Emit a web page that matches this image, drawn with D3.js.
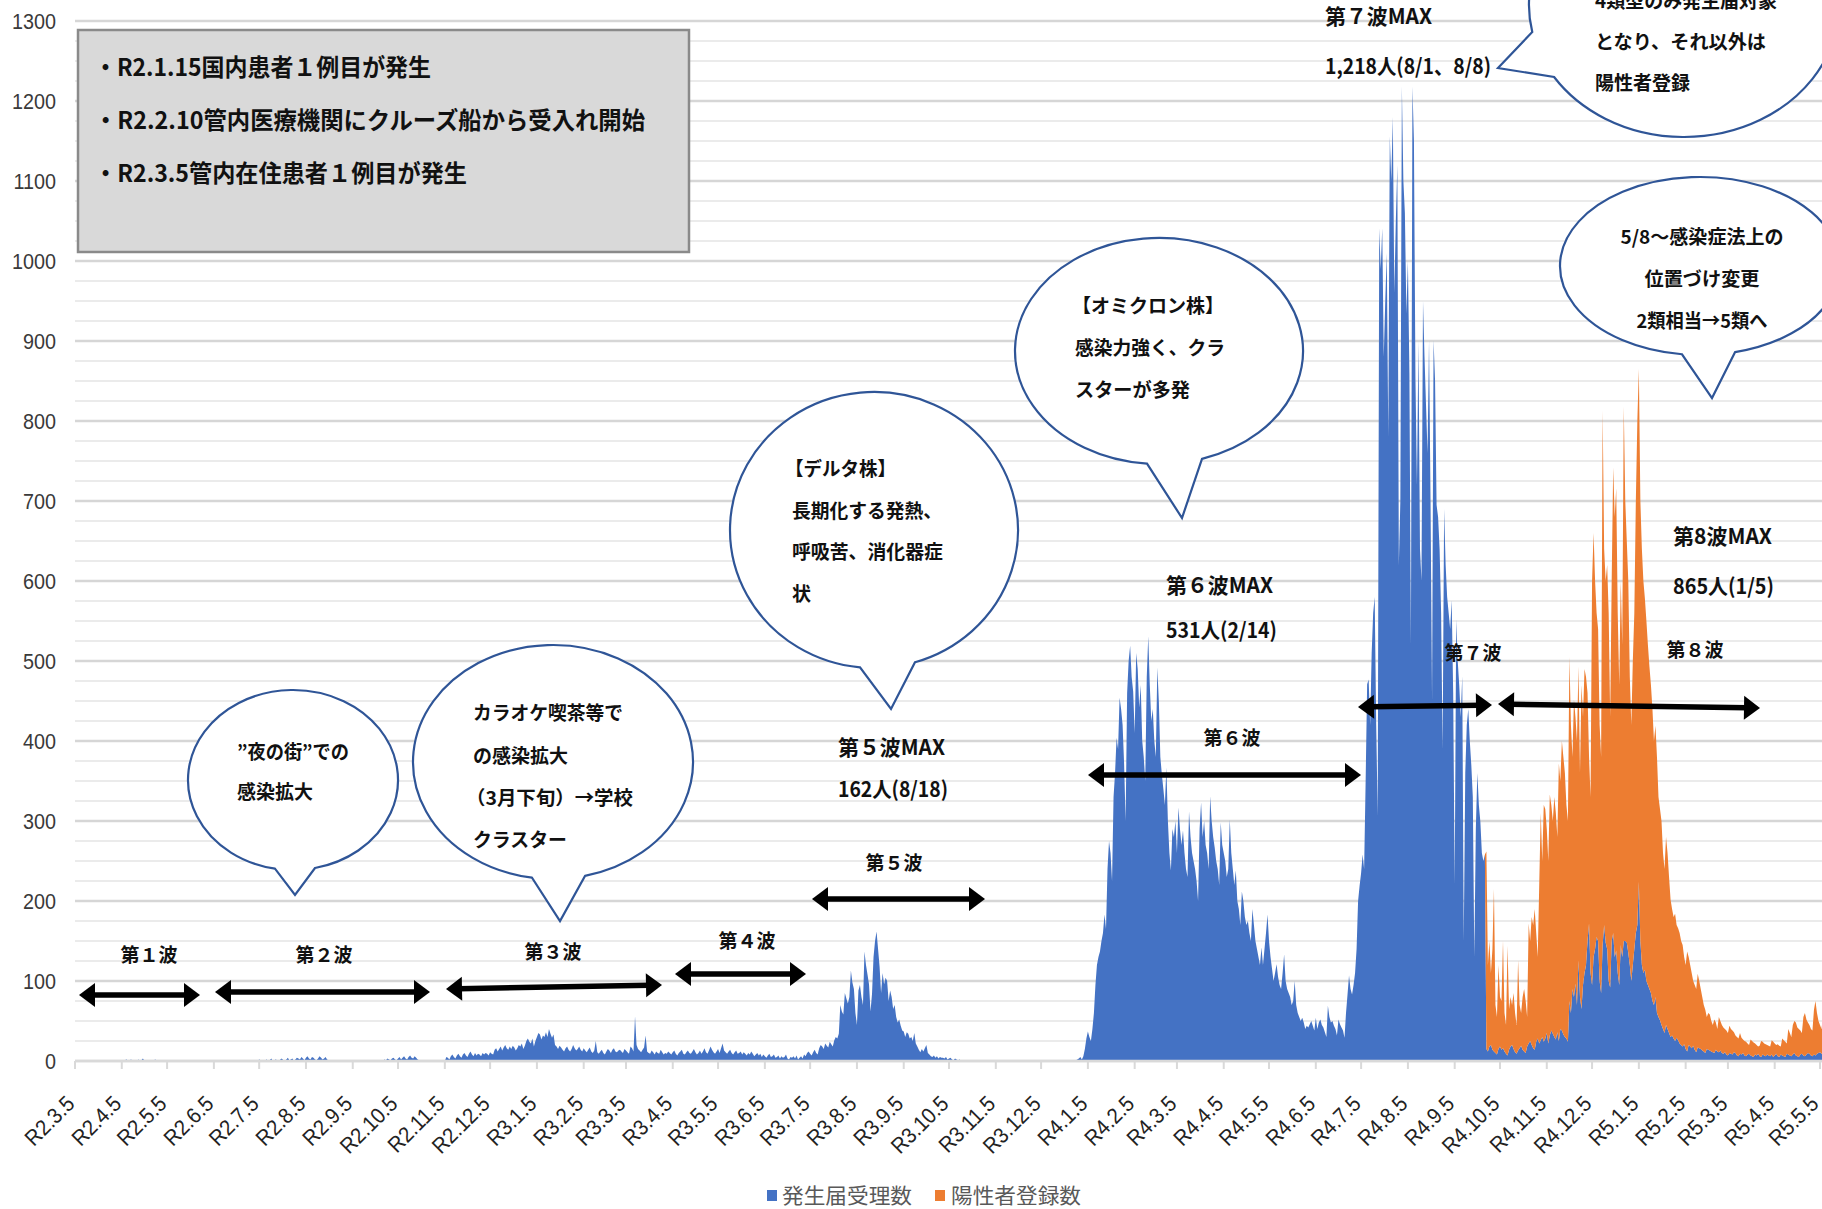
<!DOCTYPE html>
<html><head><meta charset="utf-8">
<script src="https://cdn.jsdelivr.net/npm/d3@7"></script>
<style>
html,body{margin:0;padding:0;background:#fff;}
svg{display:block;}
</style></head><body>
<svg id="chart" width="1822" height="1209"></svg>
<script>
// ===== Daily counts: 発生届受理数 (notifications), one array per month =====
// 2020 starts on 3/5
const notified2020 = [
  [0,0,0,0,1,0,0,0,0,0,0,0,0,1,0,0,0,0,0,0,1,0,0,0,0,0,1],
  [0,1,0,0,0,0,1,2,1,0,2,1,0,1,0,2,0,1,3,0,1,0,0,1,0,0,2,1,0,0],
  [0,0,0,1,0,0,0,0,0,0,1,0,0,0,0,0,0,0,0,0,0,0,0,0,0,0,0,0,0,0,0],
  [0,0,0,0,0,0,0,0,0,0,0,0,0,0,0,0,0,0,0,0,0,0,0,0,0,0,0,1,0,0],
  [0,1,0,0,2,1,0,0,1,2,0,1,3,0,1,2,1,0,2,3,1,0,2,4,1,2,3,0,2,4,3],
  [2,5,3,1,4,6,3,2,5,4,2,1,3,6,4,2,3,5,2,1,0,1,0,0,0,0,0,0,0,0,0],
  [0,0,1,0,0,0,0,1,0,0,0,0,0,1,0,0,0,0,0,0,0,0,0,0,0,2,1,3,2,1],
  [3,4,2,1,3,5,2,4,6,3,2,5,7,4,3,6,4,2,1,0,0,0,0,0,1,0,0,0,0,0,0],
  [0,0,0,0,0,5,4,2,6,8,5,3,7,9,6,4,8,10,7,5,9,12,8,6,10,7,9,8,6,10],
  [8,10,9,7,11,9,8,14,16,12,15,18,13,17,20,16,14,18,15,19,17,13,16,20,18,22,15,19,25,28,24]
];
const notified2021 = [
  [22,28,18,25,30,35,33,27,32,30,36,30,40,34,29,33,20,18,15,19,17,14,12,16,18,14,12,15,20,16,13],
  [15,18,14,12,16,13,11,14,17,12,10,13,25,11,9,12,14,10,8,12,15,13,10,14,16,12,11,13],
  [14,12,10,15,13,11,9,18,16,12,56,20,15,13,11,14,17,32,12,10,9,13,11,8,12,10,9,14,11,8,10],
  [9,12,10,8,11,13,9,7,10,12,14,9,8,11,13,10,9,12,15,11,8,10,13,9,12,16,11,9,13,18],
  [14,11,9,12,15,10,16,22,13,11,9,12,14,10,8,11,13,9,10,12,8,11,9,7,10,8,12,9,6,8,10],
  [7,9,5,8,6,4,7,9,5,6,8,4,5,7,3,6,4,5,8,3,2,5,4,6,3,7,2,4,6,3],
  [8,6,10,12,9,7,11,14,10,8,16,20,18,15,22,19,17,24,21,18,26,30,28,34,70,62,58,85,78,72,80],
  [113,98,90,60,45,88,95,80,70,137,120,108,96,62,84,130,150,162,140,118,85,110,96,104,100,75,88,80,65,70,55],
  [48,52,44,38,37,30,36,34,28,30,25,35,22,18,14,11,15,12,16,20,10,8,6,5,7,4,6,3,5,4],
  [4,3,5,2,3,4,2,1,3,2,1,2,0,1,0,0,1,0,0,0,1,0,1,0,0,1,0,0,0,1,0],
  [0,0,1,0,0,0,0,0,0,0,0,0,0,0,0,0,0,0,0,0,0,0,0,0,0,0,0,0,0,0],
  [0,0,0,0,1,0,0,0,0,0,0,0,0,0,0,0,0,0,0,0,0,1,0,0,0,0,0,1,2,3,5]
];
const notified2022 = [
  [2,6,15,28,37,30,25,40,60,95,120,130,137,150,160,183,165,240,275,260,225,330,360,404,390,454,440,420,371,300,460],
  [500,519,480,462,410,510,490,442,470,400,380,350,480,531,470,425,440,400,380,492,450,380,358,340,320,367,300,260],
  [238,290,280,300,260,317,290,270,288,260,240,230,312,280,260,250,240,225,200,290,323,280,300,270,260,240,331,300,280,267,250],
  [240,220,298,270,260,250,230,240,302,260,240,220,238,200,190,170,212,200,180,170,175,160,150,190,170,150,140,130,120,142],
  [120,140,160,183,150,130,115,100,110,121,105,95,90,110,133,100,90,85,80,70,75,100,70,60,55,50,54,48,40,44,42],
  [46,50,44,38,54,40,48,52,45,42,36,30,69,55,48,50,44,40,32,52,46,42,38,29,60,83,107,90,83,95],
  [110,140,200,219,235,258,240,350,471,477,420,510,560,580,420,306,1041,990,1041,880,950,1010,780,1156,1100,1180,960,1050,1120,620,700],
  [1218,1100,1060,934,1000,860,520,1218,1150,853,720,900,640,600,950,880,820,760,901,700,450,901,850,695,680,640,560,390,690,620,580],
  [560,540,576,460,220,552,500,470,430,481,150,360,420,440,400,370,330,130,290,360,320,299,260,250,258,15,12,18,20,14],
  [12,10,8,15,18,14,16,12,9,7,14,18,20,15,11,9,13,16,19,14,12,10,18,22,25,20,16,14,24,28,22],
  [26,30,24,28,35,22,32,38,34,30,27,36,25,40,38,33,30,28,24,75,60,90,80,97,70,126,80,65,95,110],
  [120,150,172,110,95,130,140,155,150,100,85,145,170,148,140,100,92,150,160,130,138,110,95,145,130,150,150,148,135,120,100]
];
const notified2023 = [
  [120,140,160,170,224,150,120,110,114,100,95,90,85,75,70,80,60,55,51,45,40,35,45,40,35,30,32,28,25,29,26],
  [22,20,18,21,15,12,20,18,16,19,14,11,17,16,15,13,12,10,15,14,13,12,11,10,14,12,11,13],
  [10,9,11,8,7,10,9,8,11,10,7,6,9,8,10,7,6,8,9,7,6,5,8,7,9,6,5,8,7,6,8],
  [7,6,8,5,7,9,6,5,8,7,6,5,9,8,7,6,8,10,7,6,5,8,9,7,6,8,10,9,7,6],
  [8,7,9,10,11,9,8]
];

// ===== Daily counts: 陽性者登録数 (registrations), from 2022/9/26 =====
const registered2022 = [
  [247,108,132,90,126],
  [203,60,47,105,62,61,134,48,36,137,51,62,50,70,49,36,113,54,41,66,78,65,37,150,125,160,154,176,136,102,198],
  [284,220,296,287,255,228,301,282,266,300,283,244,347,310,362,347,330,292,276,430,360,290,372,333,330,367,280,405,335,380],
  [360,310,208,220,505,530,460,405,390,320,295,668,470,452,480,460,338,450,582,550,578,450,375,455,390,668,550,502,465,360,320]
];
const registered2023 = [
  [380,420,540,630,641,550,520,490,464,450,425,403,385,365,330,339,320,275,264,255,220,205,235,220,195,172,158,152,159,141,140],
  [138,130,127,109,105,125,110,102,94,81,81,79,92,84,75,67,58,54,40,46,45,38,34,42,34,28,44,37],
  [35,33,29,30,28,34,31,30,25,22,23,22,26,21,17,18,18,14,11,20,19,18,14,13,9,13,20,16,15,15,12],
  [12,12,18,19,15,11,15,14,10,21,20,19,13,32,28,24,37,40,41,36,35,30,26,48,54,44,38,36,33,32],
  [56,68,51,40,34,31,47]
];

const seriesNames = ['発生届受理数', '陽性者登録数'];
const seriesColors = ['#4472c4', '#ed7d31'];
const yTicks = d3.range(0, 1301, 100);
const gridStep = 25;

// month blocks -> dated records
function expand(year, firstMonth, firstDay, months) {
  const out = [];
  months.forEach((vals, i) => {
    const d0 = i === 0 ? firstDay : 1;
    vals.forEach((v, j) => out.push({ date: new Date(year, firstMonth - 1 + i, d0 + j), v }));
  });
  return out;
}
const notified = [].concat(
  expand(2020, 3, 5, notified2020), expand(2021, 1, 1, notified2021),
  expand(2022, 1, 1, notified2022), expand(2023, 1, 1, notified2023));
const registered = [].concat(expand(2022, 9, 26, registered2022), expand(2023, 1, 1, registered2023));
const regByDay = new Map(registered.map(d => [+d.date, d.v]));
const rows = notified.map(d => ({ date: d.date, notified: d.v, registered: regByDay.get(+d.date) || 0 }));

// ===== Layout =====
const W = 1822, H = 1209;
const svg = d3.select('#chart');
const x = d3.scaleTime().domain([new Date(2020, 2, 5), new Date(2023, 4, 5)]).range([75, 1820]);
const y = d3.scaleLinear().domain([0, 1300]).range([1061, 21]);
const NUM_FONT = "'Liberation Sans', Arial, sans-serif";
const JP_FONT = "'Noto Sans CJK JP', 'Noto Sans', sans-serif";

// gridlines
svg.append('g').selectAll('line').data(d3.range(0, 1301, gridStep)).join('line')
  .attr('x1', 75).attr('x2', W).attr('y1', d => y(d)).attr('y2', d => y(d))
  .attr('stroke', d => d % 100 === 0 ? '#d6d6d6' : '#ebebeb')
  .attr('stroke-width', d => d % 100 === 0 ? 2.6 : 2.2);

// y tick labels
svg.append('g').selectAll('text').data(yTicks).join('text')
  .attr('transform', d => `translate(56,${y(d) + 7.5}) scale(0.9,1)`)
  .attr('text-anchor', 'end').attr('font-family', NUM_FONT).attr('font-size', 22)
  .attr('fill', '#3a3a3a').text(d => d);

// stacked areas
const stacked = d3.stack().keys(['notified', 'registered'])(rows);
const regStartIdx = rows.findIndex(r => r.registered > 0) - 1;
const area = d3.area().x(d => x(d.data.date)).y0(d => y(d[0])).y1(d => y(d[1]));
svg.append('path').datum(stacked[0]).attr('d', area).attr('fill', seriesColors[0]);
svg.append('path').datum(stacked[1].slice(regStartIdx)).attr('d', area).attr('fill', seriesColors[1]);

// x axis
const monthTicks = d3.range(0, 39).map(i => new Date(2020, 2 + i, 5));
const fmtTick = d => `R${d.getFullYear() - 2018}.${d.getMonth() + 1}.5`;
const xa = svg.append('g');
xa.append('line').attr('x1', 75).attr('x2', W).attr('y1', 1061).attr('y2', 1061)
  .attr('stroke', '#d9d9d9').attr('stroke-width', 2.5);
xa.selectAll('line.tick').data(monthTicks).join('line').attr('class', 'tick')
  .attr('x1', d => x(d)).attr('x2', d => x(d)).attr('y1', 1061).attr('y2', 1069)
  .attr('stroke', '#d9d9d9').attr('stroke-width', 2);
xa.selectAll('text').data(monthTicks).join('text')
  .attr('transform', d => `translate(${Math.min(x(d) + 1, W - 2)},${1105}) rotate(-45) scale(0.92,1)`)
  .attr('text-anchor', 'end').attr('font-family', NUM_FONT).attr('font-size', 22)
  .attr('fill', '#222').text(fmtTick);

// ===== Annotations =====
const ann = svg.append('g').attr('font-family', JP_FONT);
function txt(s, px, py, o = {}) {
  const size = o.size || 19;
  const t = ann.append('text').attr('x', px).attr('y', py + size * 0.37).text(s)
    .attr('font-size', size).attr('font-weight', o.weight || 'bold')
    .attr('fill', o.fill || '#111').attr('text-anchor', o.anchor || 'start');
  if (o.w) t.attr('textLength', o.w).attr('lengthAdjust', 'spacingAndGlyphs');
  return t;
}
function bubble(b) {
  const onEllipse = (px, sign) => [px, b.cy + sign * b.ry * Math.sqrt(Math.max(0, 1 - ((px - b.cx) / b.rx) ** 2))];
  const onEllipseY = (py) => [b.cx - b.rx * Math.sqrt(Math.max(0, 1 - ((py - b.cy) / b.ry) ** 2)), py];
  let a, c;
  if (b.side === 'left') { a = onEllipseY(b.base[0]); c = onEllipseY(b.base[1]); }
  else { a = onEllipse(b.base[0], 1); c = onEllipse(b.base[1], 1); }
  ann.append('path')
    .attr('d', `M${a[0]},${a[1]} A${b.rx},${b.ry} 0 1 1 ${c[0]},${c[1]} L${b.tip[0]},${b.tip[1]} Z`)
    .attr('fill', '#fff').attr('stroke', '#2f5597').attr('stroke-width', 2.2)
    .attr('stroke-linejoin', 'miter');
}
function arrow(x1, y1, x2, y2) {
  const len = Math.hypot(x2 - x1, y2 - y1), ux = (x2 - x1) / len, uy = (y2 - y1) / len;
  const hl = 16, hw = 12;
  const g = ann.append('g');
  g.append('line').attr('x1', x1 + ux * hl * 0.8).attr('y1', y1 + uy * hl * 0.8)
    .attr('x2', x2 - ux * hl * 0.8).attr('y2', y2 - uy * hl * 0.8)
    .attr('stroke', '#000').attr('stroke-width', 5.5);
  const head = (px, py, dx, dy) => {
    const bx = px + dx * hl, by = py + dy * hl;
    return `M${px},${py} L${bx - dy * hw},${by + dx * hw} L${bx + dy * hw},${by - dx * hw} Z`;
  };
  g.append('path').attr('d', head(x1, y1, ux, uy)).attr('fill', '#000');
  g.append('path').attr('d', head(x2, y2, -ux, -uy)).attr('fill', '#000');
}

// event box
ann.append('rect').attr('x', 78).attr('y', 30).attr('width', 611).attr('height', 222)
  .attr('fill', '#d9d9d9').attr('stroke', '#8a8a8a').attr('stroke-width', 2.5);
txt('・R2.1.15国内患者１例目が発生', 94, 67, { size: 24, w: 337 });
txt('・R2.2.10管内医療機関にクルーズ船から受入れ開始', 94, 120, { size: 24, w: 551 });
txt('・R2.3.5管内在住患者１例目が発生', 94, 173, { size: 24, w: 373 });

// speech bubbles
bubble({ cx: 293, cy: 780, rx: 105, ry: 90, base: [275, 315], tip: [295, 895] });
txt('”夜の街”での', 237, 752, { w: 112 });
txt('感染拡大', 237, 792, { w: 76 });

bubble({ cx: 553, cy: 762, rx: 140, ry: 117, base: [532, 585], tip: [560, 921] });
txt('カラオケ喫茶等で', 473, 713, { w: 150 });
txt('の感染拡大', 473, 756, { w: 95 });
txt('（3月下旬）→学校', 466, 798, { w: 167 });
txt('クラスター', 473, 840, { w: 94 });

bubble({ cx: 874, cy: 530, rx: 144, ry: 138, base: [860, 915], tip: [891, 709] });
txt('【デルタ株】', 785, 469, { w: 111 });
txt('長期化する発熱、', 792, 511, { w: 150 });
txt('呼吸苦、消化器症', 792, 552, { w: 151 });
txt('状', 792, 594, { w: 19 });

bubble({ cx: 1159, cy: 351, rx: 144, ry: 113, base: [1147, 1202], tip: [1182, 518] });
txt('【オミクロン株】', 1072, 306, { w: 152 });
txt('感染力強く、クラ', 1075, 348, { w: 150 });
txt('スターが多発', 1075, 390, { w: 115 });

bubble({ cx: 1700, cy: 266, rx: 140, ry: 89, base: [1682, 1735], tip: [1712, 398] });
txt('5/8～感染症法上の', 1702, 237, { anchor: 'middle', w: 163 });
txt('位置づけ変更', 1702, 279, { anchor: 'middle', w: 115 });
txt('2類相当→5類へ', 1702, 321, { anchor: 'middle', w: 131 });

bubble({ cx: 1684, cy: 5, rx: 155, ry: 132, side: 'left', base: [32, 77], tip: [1498, 68] });
txt('4類型のみ発生届対象', 1595, 1, { w: 182 });
txt('となり、それ以外は', 1595, 42, { w: 171 });
txt('陽性者登録', 1595, 83, { w: 95 });

// wave maxima
txt('第５波MAX', 838, 747, { size: 21, w: 107 });
txt('162人(8/18)', 838, 789, { size: 21, w: 110 });
txt('第６波MAX', 1166, 585, { size: 21, w: 107 });
txt('531人(2/14)', 1166, 630, { size: 21, w: 111 });
txt('第７波MAX', 1325, 16, { size: 21, w: 107 });
txt('1,218人(8/1、8/8)', 1325, 66, { size: 21, w: 166 });
txt('第8波MAX', 1673, 536, { size: 21, w: 99 });
txt('865人(1/5)', 1673, 586, { size: 21, w: 101 });

// wave spans
const waves = [
  ['第１波', 149, 955, [79, 995, 200, 995]],
  ['第２波', 324, 955, [215, 992, 430, 992]],
  ['第３波', 553, 952, [446, 989, 662, 985]],
  ['第４波', 747, 941, [675, 974, 806, 974]],
  ['第５波', 894, 863, [812, 899, 985, 899]],
  ['第６波', 1232, 738, [1088, 775, 1361, 775]],
  ['第７波', 1473, 653, [1358, 707, 1492, 705]],
  ['第８波', 1695, 650, [1498, 704, 1760, 708]]
];
waves.forEach(([label, lx, ly, a]) => {
  arrow(a[0], a[1], a[2], a[3]);
  txt(label, lx, ly, { anchor: 'middle', size: 19, w: 57 });
});

// legend
const lg = svg.append('g').attr('font-family', JP_FONT);
[[767, 782], [935, 951]].forEach(([sx, tx], i) => {
  lg.append('rect').attr('x', sx).attr('y', 1190).attr('width', 10).attr('height', 11).attr('fill', seriesColors[i]);
  lg.append('text').attr('x', tx).attr('y', 1203).attr('font-size', 21).attr('fill', '#595959')
    .attr('textLength', 130).attr('lengthAdjust', 'spacingAndGlyphs').text(seriesNames[i]);
});
</script>
</body></html>
